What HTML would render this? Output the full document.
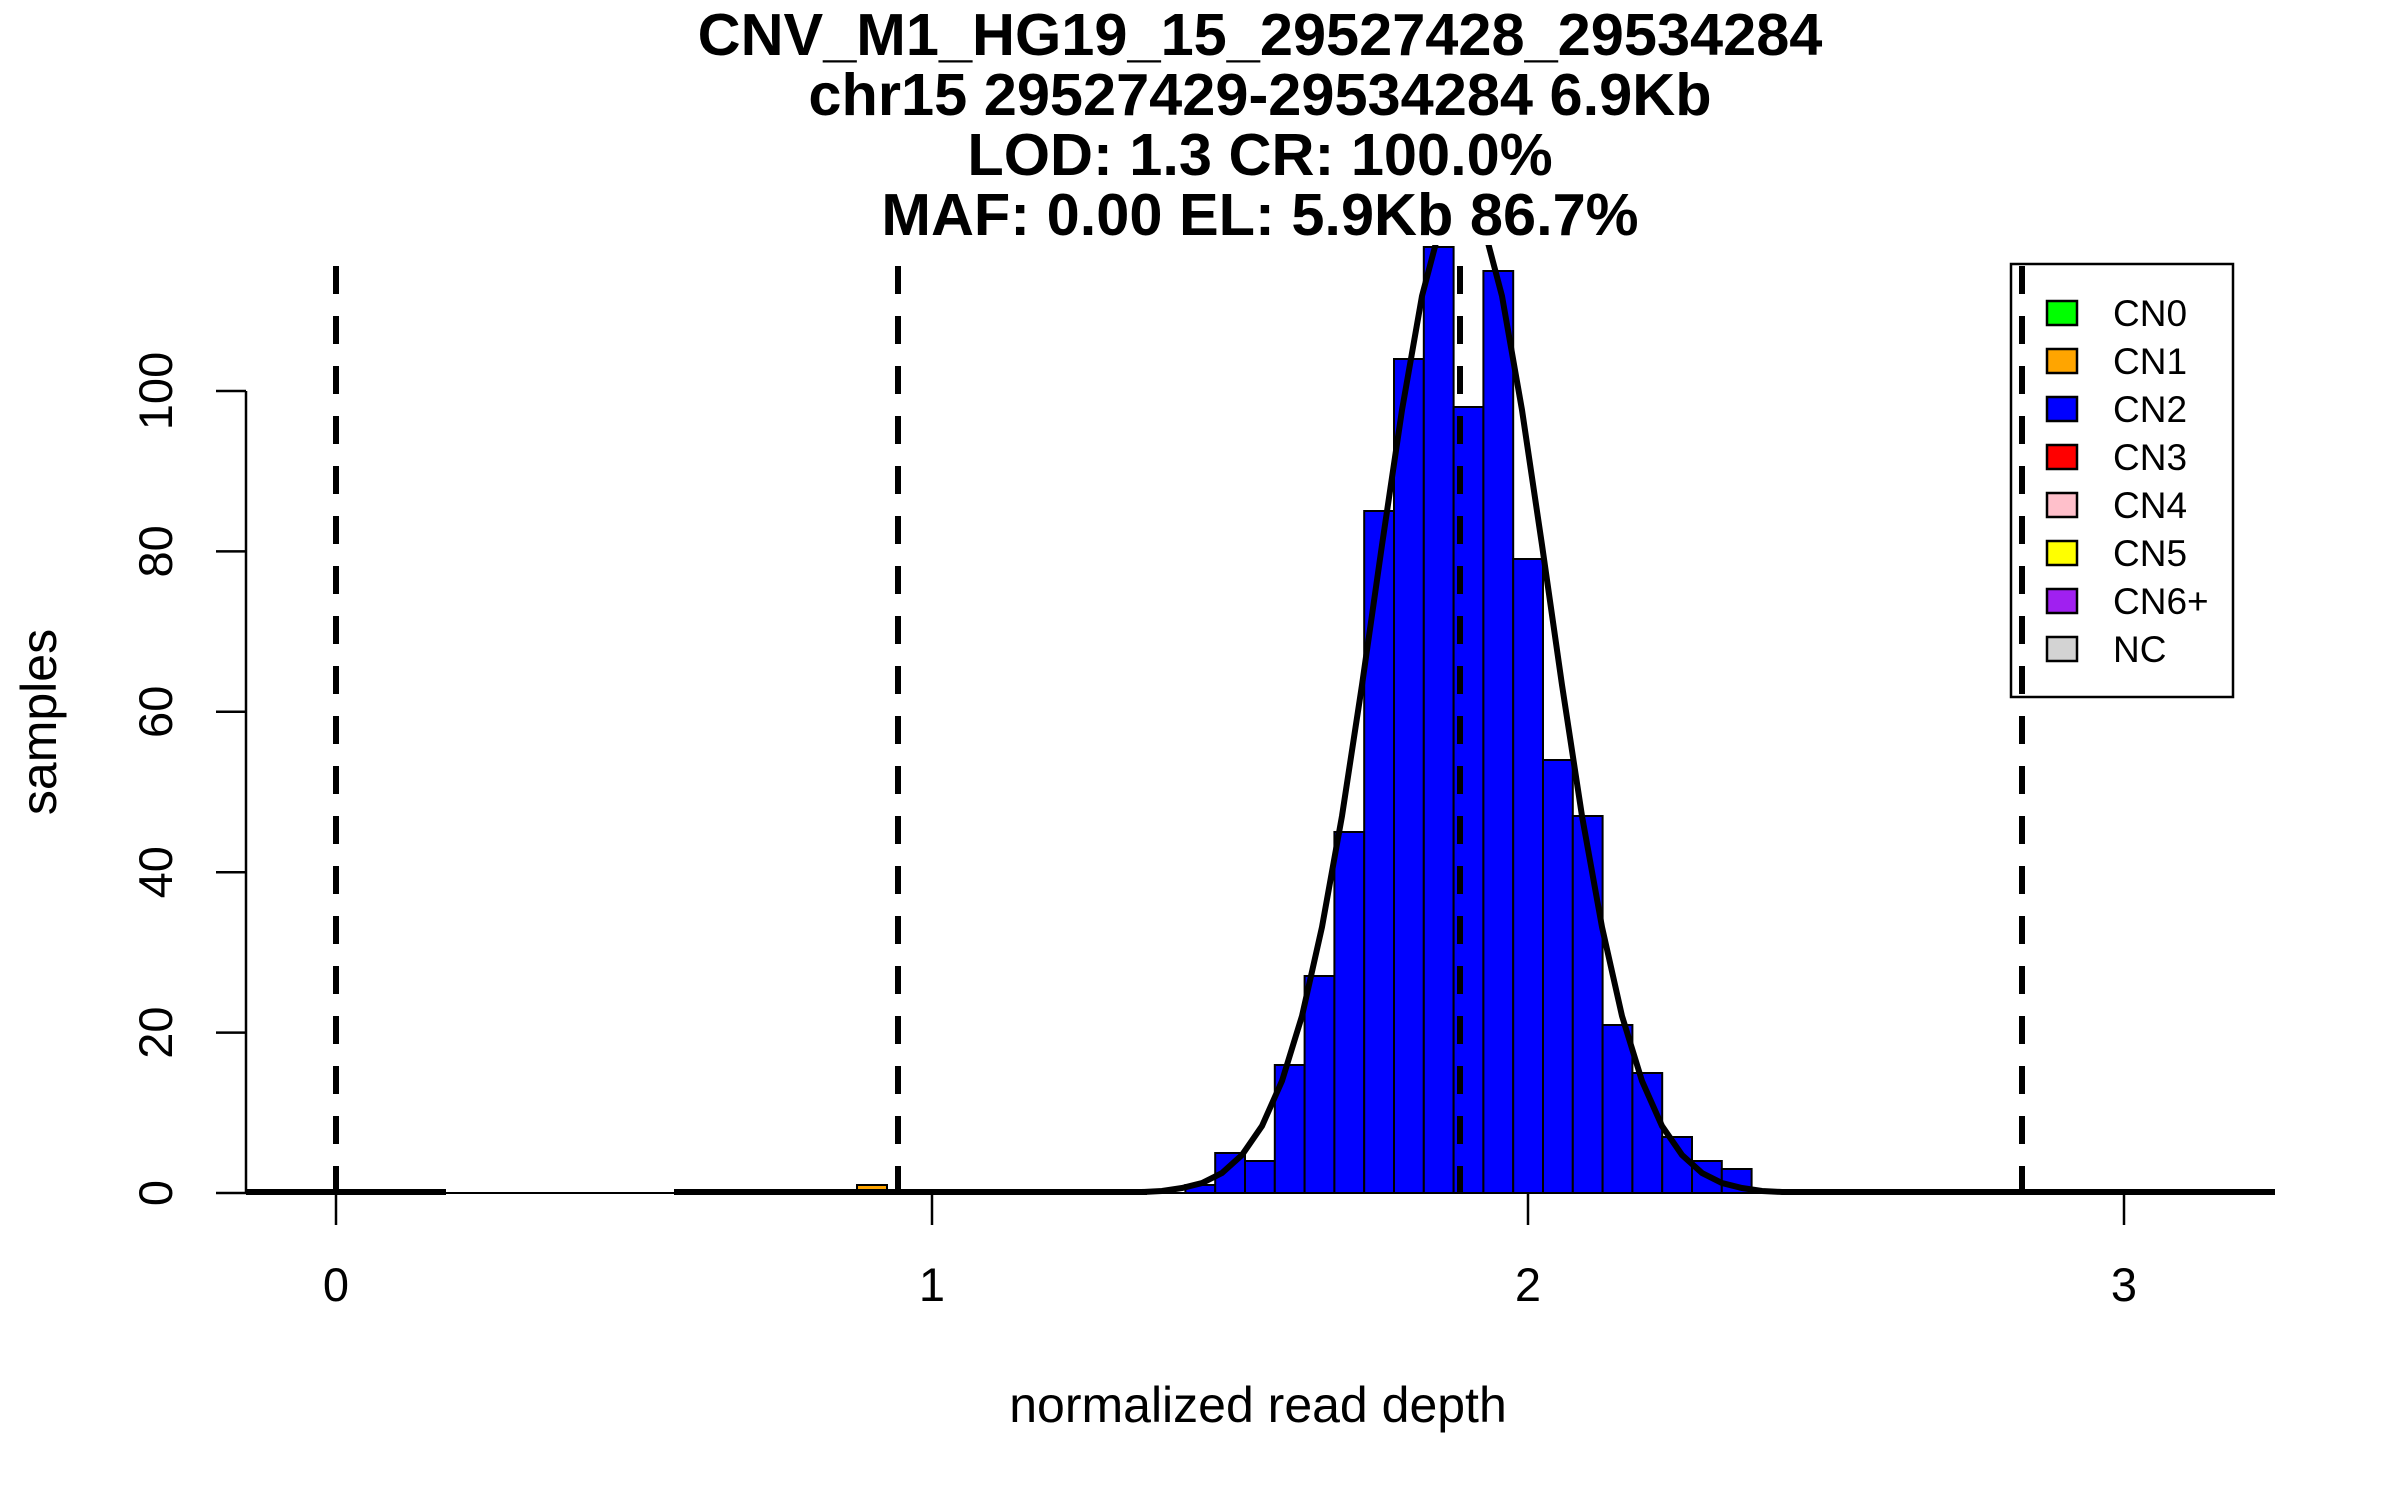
<!DOCTYPE html>
<html><head><meta charset="utf-8"><style>
html,body{margin:0;padding:0;background:#fff;}
svg{display:block;}
text{font-family:"Liberation Sans",Arial,sans-serif;fill:#000;}
</style></head><body>
<svg width="2400" height="1500" viewBox="0 0 2400 1500" xmlns="http://www.w3.org/2000/svg">
<rect width="2400" height="1500" fill="#fff"/>
<g font-weight="bold" font-size="59.5" text-anchor="middle">
<text x="1260" y="55">CNV_M1_HG19_15_29527428_29534284</text>
<text x="1260" y="115">chr15 29527429-29534284 6.9Kb</text>
<text x="1260" y="175">LOD: 1.3 CR: 100.0%</text>
<text x="1260" y="235">MAF: 0.00 EL: 5.9Kb 86.7%</text>
</g>
<defs><clipPath id="c"><rect x="246" y="245" width="2060" height="960"/></clipPath></defs>
<g clip-path="url(#c)" stroke="#000" stroke-width="2">
<rect x="857" y="1185" width="30" height="8" fill="#FFA500"/>
<g fill="#0000FF">
<rect x="1185.4" y="1185" width="29.8" height="8"/>
<rect x="1215.2" y="1153" width="29.8" height="40"/>
<rect x="1245" y="1161" width="29.8" height="32"/>
<rect x="1274.8" y="1065" width="29.8" height="128"/>
<rect x="1304.6" y="976" width="29.8" height="217"/>
<rect x="1334.4" y="832" width="29.8" height="361"/>
<rect x="1364.2" y="511" width="29.8" height="682"/>
<rect x="1394" y="359" width="29.8" height="834"/>
<rect x="1423.8" y="247" width="29.8" height="946"/>
<rect x="1453.6" y="407" width="29.8" height="786"/>
<rect x="1483.4" y="271" width="29.8" height="922"/>
<rect x="1513.2" y="559" width="29.8" height="634"/>
<rect x="1543" y="760" width="29.8" height="433"/>
<rect x="1572.8" y="816" width="29.8" height="377"/>
<rect x="1602.6" y="1025" width="29.8" height="168"/>
<rect x="1632.4" y="1073" width="29.8" height="120"/>
<rect x="1662.2" y="1137" width="29.8" height="56"/>
<rect x="1692" y="1161" width="29.8" height="32"/>
<rect x="1721.8" y="1169" width="29.8" height="24"/>
</g>
<line x1="246" y1="1193" x2="2275" y2="1193" stroke-width="2"/>
<g fill="none" stroke-width="6">
<line x1="246" y1="1192" x2="446" y2="1192"/>
<line x1="674" y1="1192" x2="1147" y2="1192"/>
<polyline points="1142,1192 1162,1191 1182,1188 1202,1183 1222,1173 1242,1155 1262,1126 1282,1081 1302,1016 1322,927 1342,816 1362,685 1382,545 1402,410 1422,296 1442,220 1462,194 1482,220 1502,296 1522,410 1542,545 1562,685 1582,816 1602,927 1622,1016 1642,1081 1662,1126 1682,1155 1702,1173 1722,1183 1742,1188 1762,1191 1782,1192 2275,1192"/>
</g>
<g stroke-width="6" stroke-dasharray="28 22" fill="none">
<line x1="336" y1="266" x2="336" y2="1193"/>
<line x1="898" y1="266" x2="898" y2="1193"/>
<line x1="1460" y1="266" x2="1460" y2="1193"/>
<line x1="2022" y1="266" x2="2022" y2="1193"/>
</g>
</g>
<g stroke="#000" stroke-width="2.5" fill="none">
<line x1="246" y1="391" x2="246" y2="1193"/>
<line x1="216" y1="1193" x2="246" y2="1193"/>
<line x1="216" y1="1032.6" x2="246" y2="1032.6"/>
<line x1="216" y1="872.2" x2="246" y2="872.2"/>
<line x1="216" y1="711.8" x2="246" y2="711.8"/>
<line x1="216" y1="551.4" x2="246" y2="551.4"/>
<line x1="216" y1="391" x2="246" y2="391"/>
<line x1="336" y1="1193" x2="336" y2="1225"/>
<line x1="932" y1="1193" x2="932" y2="1225"/>
<line x1="1528" y1="1193" x2="1528" y2="1225"/>
<line x1="2124" y1="1193" x2="2124" y2="1225"/>
</g>
<g font-size="47" text-anchor="middle">
<text x="336" y="1301">0</text>
<text x="932" y="1301">1</text>
<text x="1528" y="1301">2</text>
<text x="2124" y="1301">3</text>
<text transform="translate(172,1193) rotate(-90)">0</text>
<text transform="translate(172,1032.6) rotate(-90)">20</text>
<text transform="translate(172,872.2) rotate(-90)">40</text>
<text transform="translate(172,711.8) rotate(-90)">60</text>
<text transform="translate(172,551.4) rotate(-90)">80</text>
<text transform="translate(172,391) rotate(-90)">100</text>
</g>
<g font-size="50" text-anchor="middle">
<text transform="translate(56,722) rotate(-90)">samples</text>
<text x="1258" y="1422">normalized read depth</text>
</g>
<rect x="2011" y="264" width="222" height="433" fill="none" stroke="#000" stroke-width="2.5"/>
<g stroke="#000" stroke-width="2.5">
<rect x="2047" y="301" width="30" height="24" fill="#00FF00"/>
<rect x="2047" y="349" width="30" height="24" fill="#FFA500"/>
<rect x="2047" y="397" width="30" height="24" fill="#0000FF"/>
<rect x="2047" y="445" width="30" height="24" fill="#FF0000"/>
<rect x="2047" y="493" width="30" height="24" fill="#FFC0CB"/>
<rect x="2047" y="541" width="30" height="24" fill="#FFFF00"/>
<rect x="2047" y="589" width="30" height="24" fill="#A020F0"/>
<rect x="2047" y="637" width="30" height="24" fill="#D3D3D3"/>
</g>
<g font-size="37">
<text x="2113" y="326">CN0</text>
<text x="2113" y="374">CN1</text>
<text x="2113" y="422">CN2</text>
<text x="2113" y="470">CN3</text>
<text x="2113" y="518">CN4</text>
<text x="2113" y="566">CN5</text>
<text x="2113" y="614">CN6+</text>
<text x="2113" y="662">NC</text>
</g>
</svg>
</body></html>
